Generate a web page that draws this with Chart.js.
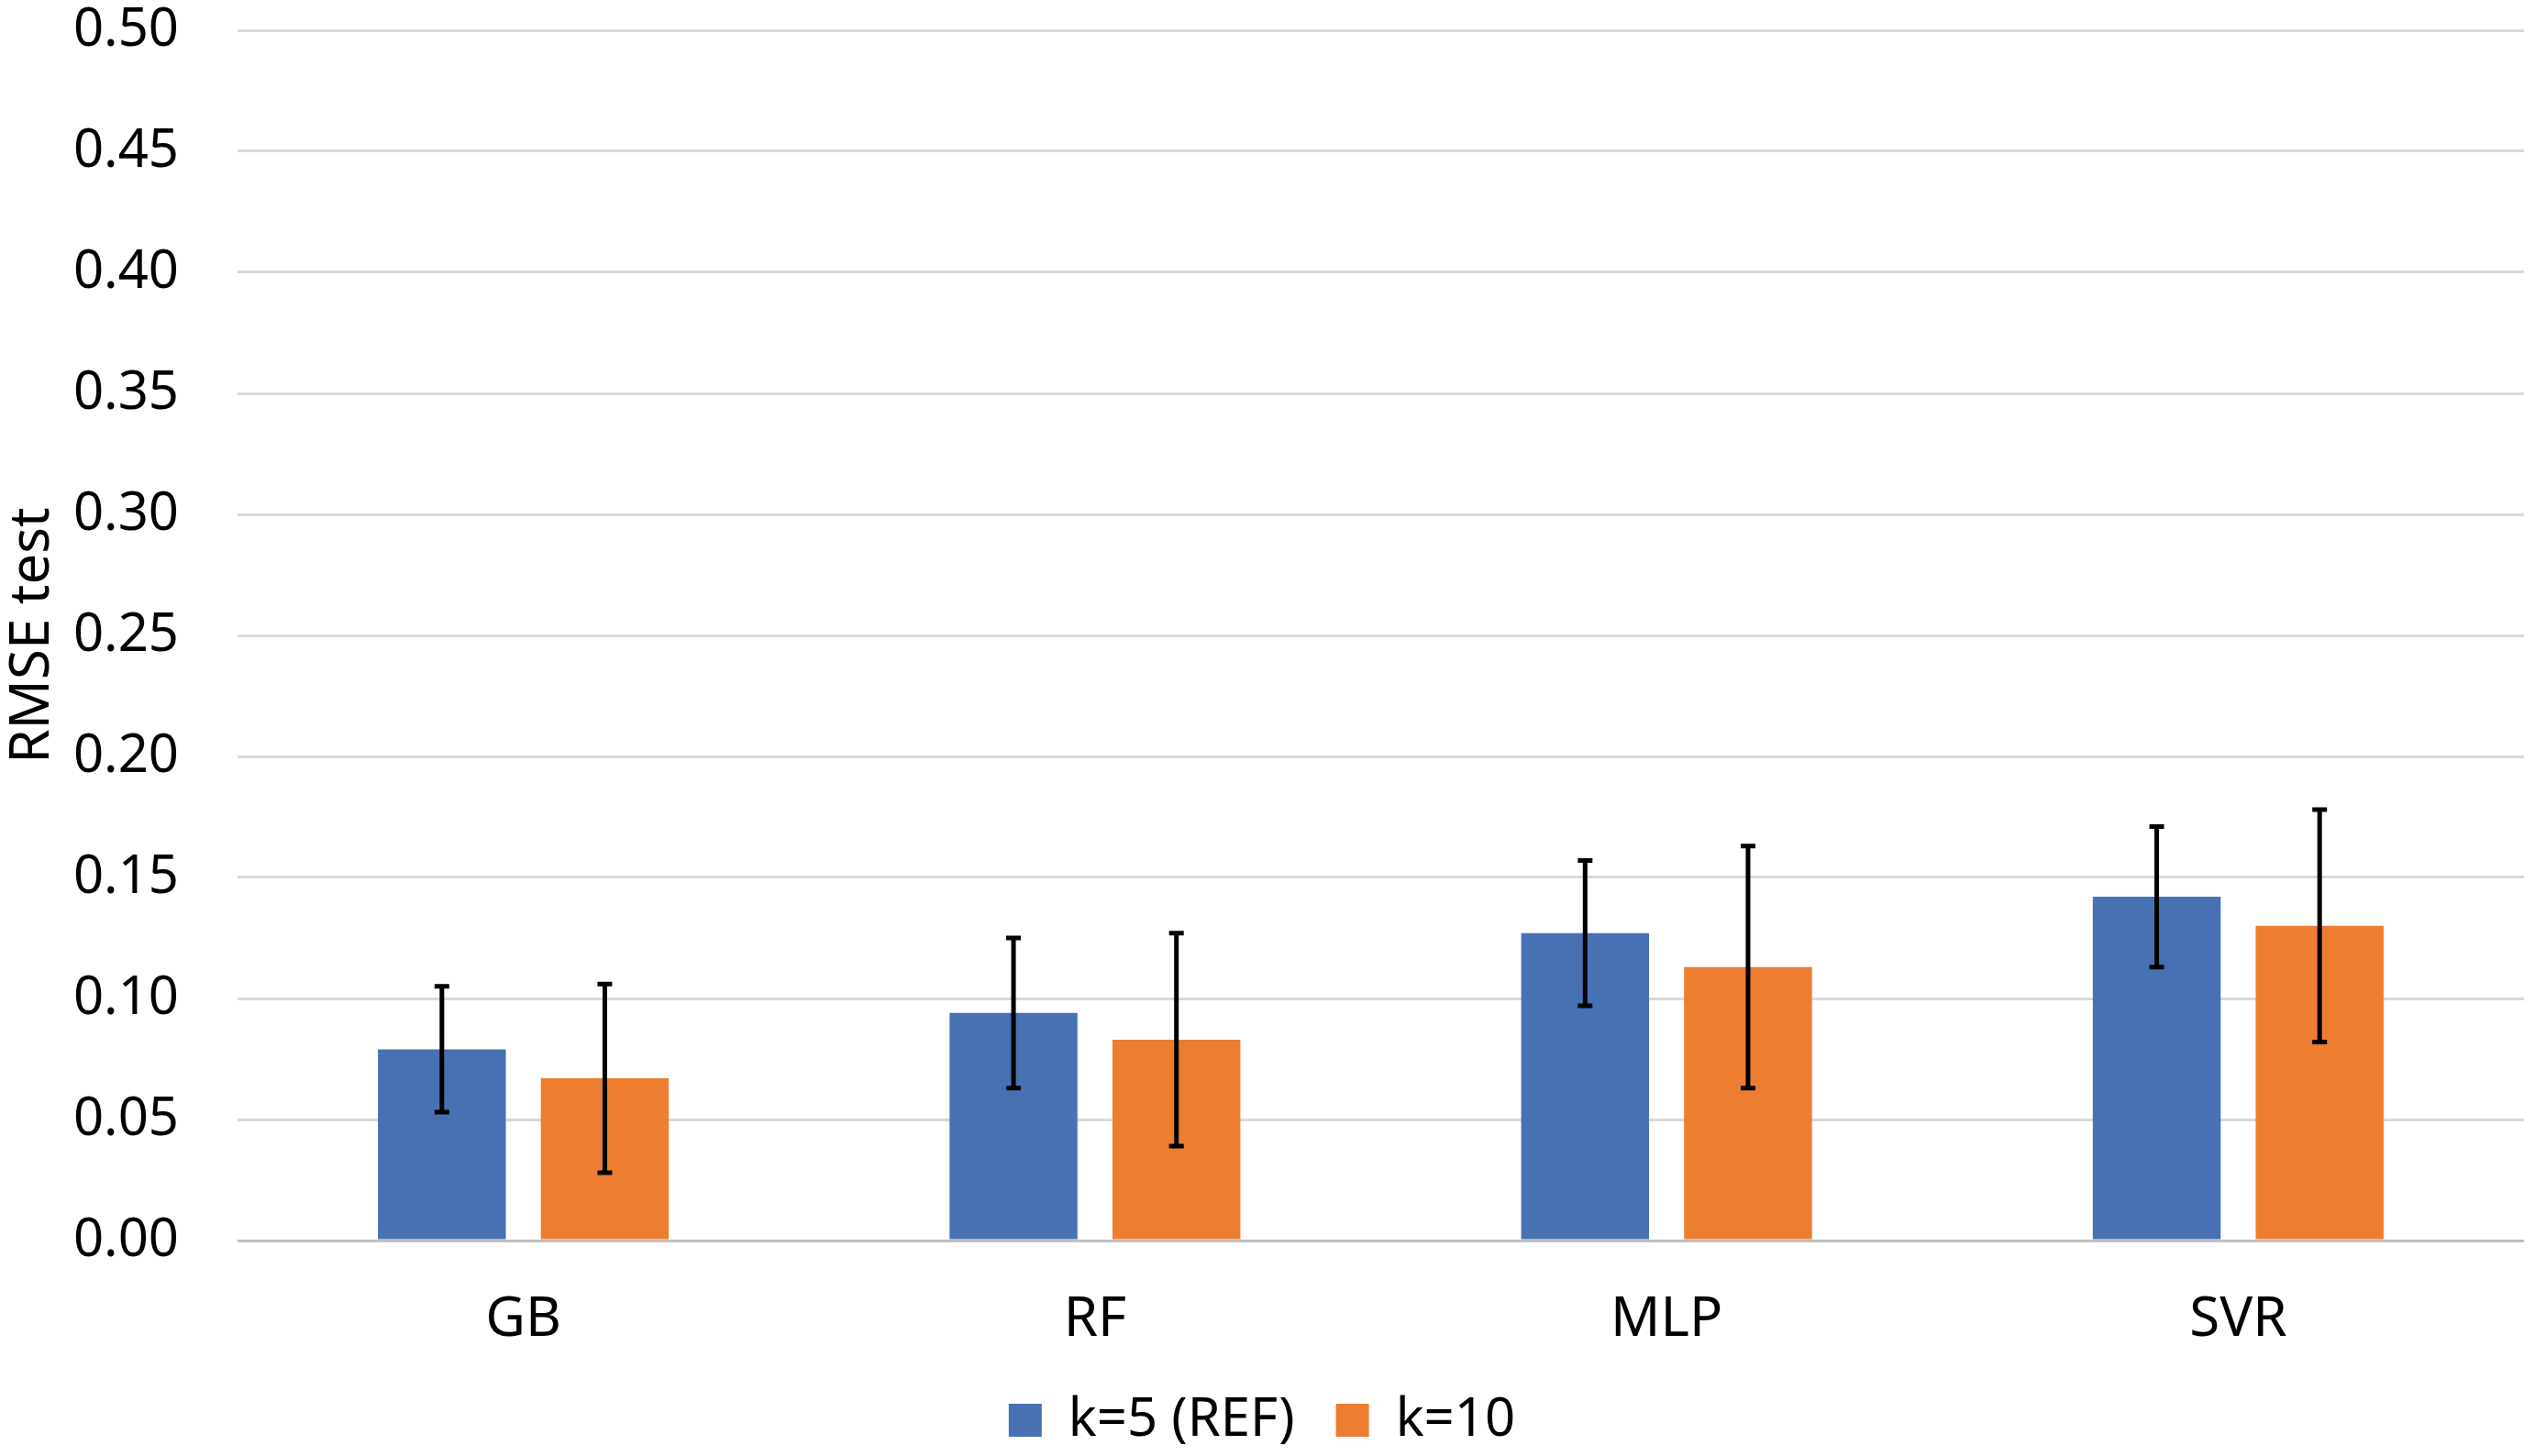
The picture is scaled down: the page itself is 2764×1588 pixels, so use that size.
<!DOCTYPE html>
<html>
<head>
<meta charset="utf-8">
<script src="https://cdn.jsdelivr.net/npm/chart.js@4.4.1/dist/chart.umd.min.js"></script>
<style>
    html, body { margin: 0; padding: 0; background: #fff; }
    #wrap { width: 2764px; height: 1588px; }
</style>
</head>
<body>
<div id="wrap"><canvas id="grafico" width="2764" height="1588"></canvas></div>
<script>
// Datos
const modelos = ['GB', 'RF', 'MLP', 'SVR'];
const rmseK5 = [0.079, 0.094, 0.127, 0.142];
const errK5 = [0.026, 0.031, 0.030, 0.029];
const rmseK10 = [0.067, 0.083, 0.113, 0.130];
const errK10 = [0.039, 0.044, 0.050, 0.048];
const ticksY = [0, 0.05, 0.10, 0.15, 0.20, 0.25, 0.30, 0.35, 0.40, 0.45, 0.50];

const fuente = "'Noto Sans', 'Open Sans', sans-serif";

// Barras de error (no vienen en Chart.js)
const barrasError = {
    id: 'barrasError',
    afterDatasetsDraw(chart) {
        const ctx = chart.ctx;
        const y = chart.scales.y;
        chart.data.datasets.forEach((ds, i) => {
            const meta = chart.getDatasetMeta(i);
            meta.data.forEach((bar, j) => {
                const v = ds.data[j];
                const e = ds.errores[j];
                const yTop = y.getPixelForValue(v + e);
                const yBot = y.getPixelForValue(v - e);
                ctx.save();
                ctx.strokeStyle = '#000';
                ctx.lineWidth = 5;
                ctx.beginPath();
                ctx.moveTo(bar.x, yTop);
                ctx.lineTo(bar.x, yBot);
                ctx.moveTo(bar.x - 8, yTop);
                ctx.lineTo(bar.x + 8, yTop);
                ctx.moveTo(bar.x - 8, yBot);
                ctx.lineTo(bar.x + 8, yBot);
                ctx.stroke();
                ctx.restore();
            });
        });
    }
};

const ctx = document.getElementById('grafico').getContext('2d');
new Chart(ctx, {
    type: 'bar',
    data: {
        labels: modelos,
        datasets: [
            { label: 'k=5 (REF)', data: rmseK5, errores: errK5, backgroundColor: '#4871B4' },
            { label: 'k=10', data: rmseK10, errores: errK10, backgroundColor: '#ED7D31' }
        ]
    },
    options: {
        responsive: false,
        animation: false,
        devicePixelRatio: 1,
        categoryPercentage: 0.57,
        barPercentage: 0.785,
        layout: { padding: { top: 0, right: 12, left: 0, bottom: 0 } },
        plugins: {
            legend: {
                position: 'bottom',
                labels: {
                    font: { family: fuente, size: 58 },
                    color: '#000',
                    boxWidth: 36,
                    boxHeight: 36,
                    padding: 45
                }
            },
            tooltip: { enabled: false }
        },
        scales: {
            x: {
                grid: { display: false },
                border: { display: false },
                ticks: { font: { family: fuente, size: 60 }, color: '#000', padding: 43 },
                afterFit: s => { s.height = 122; }
            },
            y: {
                min: 0,
                max: 0.5,
                afterBuildTicks: axis => { axis.ticks = ticksY.map(v => ({ value: v })); },
                afterFit: s => { s.width = 259; s.paddingTop = 33; },
                grid: {
                    color: c => c.tick && c.tick.value === 0 ? '#bfbfbf' : '#d9d9d9',
                    lineWidth: 3,
                    drawTicks: false
                },
                border: { display: false },
                ticks: {
                    font: { family: fuente, size: 58 },
                    color: '#000',
                    padding: 64,
                    callback: v => Number(v).toFixed(2)
                },
                title: {
                    display: true,
                    text: 'RMSE test',
                    font: { family: fuente, size: 60 },
                    color: '#000',
                    padding: { top: 0, bottom: 0 }
                }
            }
        }
    },
    plugins: [barrasError]
});
</script>
</body>
</html>
